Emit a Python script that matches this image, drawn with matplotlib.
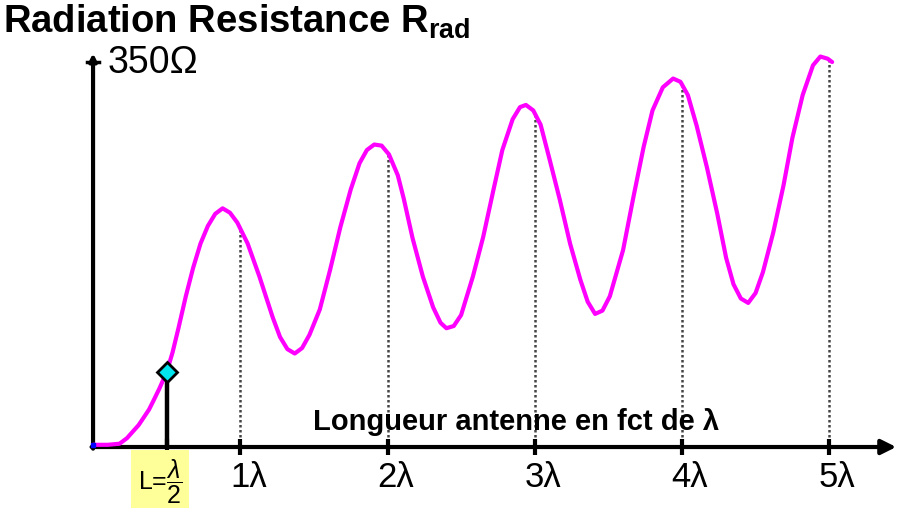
import numpy as np
import matplotlib
matplotlib.use("Agg")
import matplotlib.pyplot as plt

plt.rcParams['font.family'] = ['Liberation Sans', 'DejaVu Sans']
plt.rcParams['mathtext.fontset'] = 'custom'
plt.rcParams['mathtext.rm'] = 'Liberation Sans'
plt.rcParams['mathtext.it'] = 'Liberation Sans:italic'
plt.rcParams['mathtext.bf'] = 'Liberation Sans:bold'

# antenna length (in wavelengths) and radiation resistance (ohm)
length_lambda = [0.00, 0.10, 0.18, 0.23, 0.27, 0.31, 0.34, 0.38, 0.41, 0.45,
                 0.50, 0.54, 0.58, 0.63, 0.68, 0.73, 0.78, 0.83, 0.88, 0.93,
                 0.98, 1.05, 1.13, 1.22, 1.27, 1.32, 1.37, 1.42, 1.47, 1.54,
                 1.61, 1.68, 1.75, 1.81, 1.86, 1.91, 1.96, 2.01, 2.07, 2.11,
                 2.17, 2.24, 2.31, 2.36, 2.40, 2.45, 2.50, 2.58, 2.65, 2.72,
                 2.78, 2.85, 2.90, 2.94, 2.99, 3.04, 3.10, 3.17, 3.24, 3.31,
                 3.36, 3.41, 3.46, 3.51, 3.60, 3.67, 3.74, 3.80, 3.87, 3.94,
                 3.99, 4.04, 4.10, 4.17, 4.24, 4.30, 4.35, 4.40, 4.45, 4.50,
                 4.55, 4.62, 4.69, 4.75, 4.82, 4.89, 4.94, 4.99, 5.02]
r_rad = [2, 2, 3, 8, 14, 20, 26, 34, 42, 53,
         68, 86, 108, 137, 163, 185, 201, 212, 217, 213,
         204, 185, 155, 118, 100, 89, 85, 90, 102, 125,
         161, 200, 234, 258, 270, 275, 274, 266, 247, 226,
         190, 155, 127, 113, 108, 110, 120, 155, 191, 234,
         270, 298, 309, 311, 306, 293, 262, 225, 185, 152,
         132, 121, 124, 137, 179, 227, 273, 306, 327, 335,
         332, 320, 292, 254, 212, 172, 148, 135, 131, 140,
         159, 195, 238, 281, 320, 347, 355, 353, 350]

tick_pos = [1, 2, 3, 4, 5]
tick_labels = ["1λ", "2λ", "3λ", "4λ", "5λ"]
half_wave = 0.5
half_wave_r = 68
y_max = 350

fig = plt.figure(figsize=(9, 5.08), dpi=100)
ax = fig.add_axes([0, 0, 1, 1])
ax.set_xlim(-0.632, 5.481)
ax.set_ylim(-55.45, 406.4)
ax.axis('off')

# axes with arrows
ax.annotate('', xy=(5.455, 0), xytext=(-0.01, 0),
            arrowprops=dict(arrowstyle='-|>', lw=3, color='black',
                            mutation_scale=22, shrinkA=0, shrinkB=0))
ax.annotate('', xy=(0, 358), xytext=(0, -1.5),
            arrowprops=dict(arrowstyle='-|>', lw=3, color='black',
                            mutation_scale=10, shrinkA=0, shrinkB=0))
ax.plot([-0.04, 0.04], [y_max, y_max], color='black', lw=2.5)

# dotted guides from curve to axis
guide_h = np.interp(tick_pos, length_lambda, r_rad)
ax.vlines(tick_pos, 0, guide_h, colors='#444444', linestyles=(0, (1, 1)), lw=1.8)

# ticks on x axis
ax.vlines(tick_pos + [half_wave], -7, 7, colors='black', lw=3)

# curve
ax.plot(length_lambda, r_rad, color='#ff00ff', lw=3, solid_joinstyle='round',
        solid_capstyle='round', zorder=4)
ax.plot([0], [r_rad[0]], marker='s', ms=3, color='#0000ff', zorder=5)

# half-wave marker
ax.vlines(half_wave, 0, half_wave_r, colors='black', lw=3.2, zorder=3)
ax.plot([half_wave], [half_wave_r], marker='D', ms=10, mfc='#00e5ee',
        mec='black', mew=2, zorder=6)

# tick labels
for p, lab in zip(tick_pos, tick_labels):
    ax.text(p + 0.055, -28, lab, ha='center', va='center', fontsize=25)
ax.text(0.455, -31, r"L=$\dfrac{\lambda}{2}$", ha='center', va='center', fontsize=18,
        bbox=dict(boxstyle='square,pad=0.28', fc='#ffff99', ec='none'))

ax.text(2.87, 23, "Longueur antenne en fct de λ", ha='center', va='center',
        fontsize=21, fontweight='bold')

fig.text(0.003, 0.995, r"Radiation Resistance R$_{\mathbf{rad}}$", ha='left', va='top',
         fontsize=27.5, fontweight='bold')
fig.text(108 / 900, 1 - 63 / 508, "350Ω", ha='left', va='center', fontsize=27)

fig.savefig("out.png", dpi=100)
